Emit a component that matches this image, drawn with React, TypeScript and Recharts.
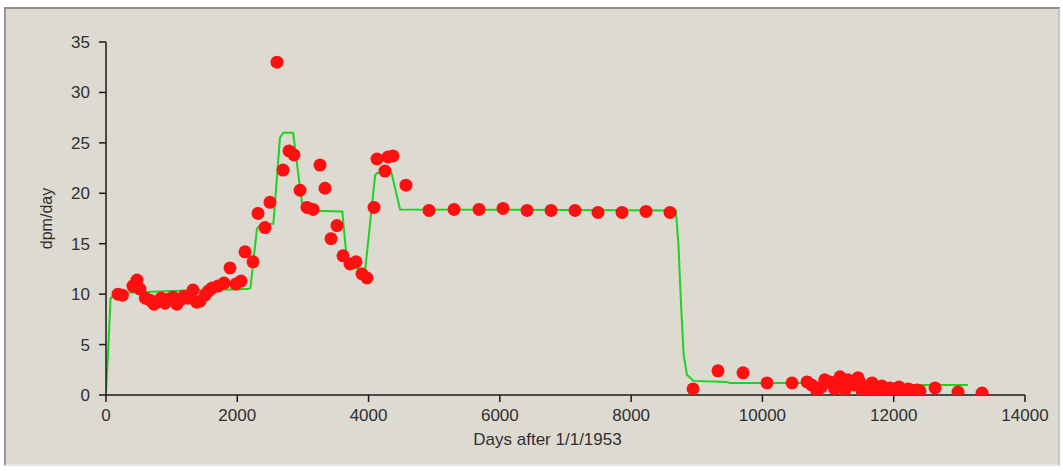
import React from 'react';
import { ComposedChart, Scatter, Line, XAxis, YAxis, Label } from 'recharts';

const xTicks = [0, 2000, 4000, 6000, 8000, 10000, 12000, 14000];
const yTicks = [0, 5, 10, 15, 20, 25, 30, 35];

const obsDays = [
  183, 250, 410, 472, 518, 600, 670, 730, 777, 840, 899, 960, 1021, 1080, 1127, 1190, 1249, 1325, 1380, 1432, 1508,
  1560, 1615, 1706, 1798, 1889, 1980, 2057, 2118, 2240, 2316, 2422, 2498, 2605, 2697, 2788, 2864, 2956, 3062,
  3154, 3260, 3336, 3428, 3519, 3611, 3717, 3808, 3900, 3976, 4083, 4128, 4250, 4296, 4372, 4570, 4921, 5302,
  5683, 6048, 6414, 6780, 7145, 7495, 7861, 8227, 8592, 8943, 9323, 9704, 10070, 10451, 10680, 10750, 10832,
  10900, 10950, 11030, 11100, 11150, 11182, 11260, 11300, 11335, 11400, 11456, 11480, 11520, 11550, 11593, 11670,
  11700, 11746, 11820, 11870, 11900, 11944, 12020, 12080, 12142, 12180, 12220, 12250, 12300, 12355, 12400,
  12630, 12980, 13346,
];
const obsValues = [
  10.0, 9.9, 10.8, 11.4, 10.5, 9.6, 9.4, 9.0, 9.2, 9.6, 9.1, 9.5, 9.7, 9.0, 9.4, 9.8, 9.6, 10.4, 9.2, 9.3, 9.9,
  10.3, 10.6, 10.8, 11.1, 12.6, 11.0, 11.3, 14.2, 13.2, 18.0, 16.6, 19.1, 33.0, 22.3, 24.2, 23.8, 20.3, 18.6,
  18.4, 22.8, 20.5, 15.5, 16.8, 13.8, 13.0, 13.2, 12.0, 11.6, 18.6, 23.4, 22.2, 23.6, 23.7, 20.8, 18.3, 18.4,
  18.4, 18.5, 18.3, 18.3, 18.3, 18.1, 18.1, 18.2, 18.1, 0.6, 2.4, 2.2, 1.2, 1.2, 1.3, 1.0, 0.3,
  0.8, 1.5, 1.3, 0.6, 1.1, 1.8, 0.5, 1.5, 1.3, 1.0, 1.7, 1.3, 0.4, 0.6, 0.8, 1.2,
  0.3, 0.5, 0.9, 0.5, 0.3, 0.7, 0.4, 0.8, 0.3, 0.4, 0.6, 0.5, 0.2, 0.5, 0.4,
  0.7, 0.3, 0.2,
];

const modelDays = [
  0, 30, 70, 150, 1000, 2150, 2200, 2300, 2350, 2550, 2650, 2700, 2850, 3000, 3600, 3680, 3950, 4100, 4130,
  4350, 4480, 8680, 8720, 8760, 8800, 8850, 8950, 9450, 9500, 11550, 11600, 13130,
];
const modelValues = [
  0.3, 4, 9.6, 10.1, 10.3, 10.5, 10.6, 16.5, 16.8, 17.0, 25.5, 26.0, 26.0, 18.3, 18.2, 12.6, 12.5, 21.8, 22.0,
  22.0, 18.4, 18.3, 15, 9, 4, 2, 1.4, 1.3, 1.2, 1.2, 1.0, 1.0,
];

const obsData = obsDays.map((d, i) => ({ x: d, y: obsValues[i] }));
const modelData = modelDays.map((d, i) => ({ x: d, y: modelValues[i] }));

const font = '"Liberation Sans", Arial, sans-serif';
const tickStyle = { fill: '#303030', fontSize: 17, fontFamily: font };

const Dot = (props: any) => {
  const { cx, cy } = props;
  if (cx == null || cy == null) return null;
  return <circle cx={cx} cy={cy} r={6.5} fill="#ff1010" />;
};

export default function App() {
  return (
    <div
      style={{
        position: 'absolute',
        left: 4,
        top: 7,
        width: 1052,
        height: 455,
        background: '#dddad2',
        borderTop: '2px solid #8f8d88',
        borderLeft: '2px solid #9a9893',
        borderRight: '2px solid #c8c6c0',
        borderBottom: '2px solid #e6e4de',
      }}
    >
      <ComposedChart
        width={1050}
        height={453}
        margin={{ top: 33, right: 31, bottom: 17, left: 40 }}
      >
        <XAxis
          type="number"
          dataKey="x"
          domain={[0, 14000]}
          ticks={xTicks}
          interval={0}
          allowDataOverflow
          stroke="#1a1a1a"
          strokeWidth={1.5}
          tickSize={7}
          tickMargin={7}
          tick={tickStyle}
          height={50}
        >
          <Label
            value="Days after 1/1/1953"
            position="insideBottom"
            offset={0}
            dx={-18}
            style={{ fill: '#303030', fontSize: 17, fontFamily: font }}
          />
        </XAxis>
        <YAxis
          type="number"
          dataKey="y"
          domain={[0, 35]}
          ticks={yTicks}
          interval={0}
          allowDataOverflow
          stroke="#1a1a1a"
          strokeWidth={1.5}
          tickSize={7}
          tickMargin={9}
          tick={tickStyle}
          width={60}
        >
          <Label
            value="dpm/day"
            angle={-90}
            position="center"
            dx={-30}
            style={{ fill: '#303030', fontSize: 16, fontFamily: font, textAnchor: 'middle' }}
          />
        </YAxis>
        <Scatter data={obsData} shape={Dot} isAnimationActive={false} />
        <Line
          data={modelData}
          dataKey="y"
          type="linear"
          stroke="#1fd21f"
          strokeWidth={2}
          dot={false}
          activeDot={false}
          isAnimationActive={false}
        />
      </ComposedChart>
    </div>
  );
}
